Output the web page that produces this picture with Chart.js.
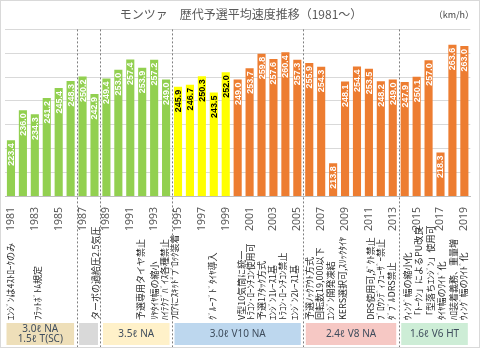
<!DOCTYPE html>
<html>
<head>
<meta charset="utf-8">
<script src="https://cdn.jsdelivr.net/npm/chart.js@4/dist/chart.umd.min.js"></script>
<style>
  body { margin: 0; background: #fff; }
  canvas { display: block; }
</style>
</head>
<body>
<canvas id="monzaChart" width="480" height="348"></canvas>
<script>
// years and qualifying average speed (km/h)
const years = ['1981', '1982', '1983', '1984', '1985', '1986', '1987', '1988', '1989', '1990',
    '1991', '1992', '1993', '1994', '1995', '1996', '1997', '1998', '1999', '2000',
    '2001', '2002', '2003', '2004', '2005', '2006', '2007', '2008', '2009', '2010',
    '2011', '2012', '2013', '2014', '2015', '2016', '2017', '2018', '2019'];
const speeds = [223.4, 236.0, 234.3, 241.2, 245.4, 248.3, 250.2, 242.9, 249.4, 253.0,
    257.4, 253.9, 257.2, 249.0, 245.9, 246.7, 250.3, 243.5, 252.0, 249.0,
    253.7, 259.8, 257.6, 260.4, 257.3, 255.9, 254.3, 213.8, 248.1, 254.4,
    253.5, 248.2, 249.0, 247.9, 250.1, 257.0, 218.3, 263.6, 263.0];

// rule changes written under the axis
const ruleYears = [1981, 1983.2, 1988.1, 1991.9, 1993, 1993.9, 1994.7, 1997.9,
    2000.3, 2001.1, 2002.0, 2002.9, 2003.8, 2004.8,
    2006.0, 2006.9, 2007.8, 2008.8, 2011.1, 2012.0, 2012.9,
    2014.2, 2015.2, 2016.2, 2017.1, 2018.1, 2018.9];
const ruleTexts = ['ｴﾝｼﾞﾝは4ｽﾄﾛｰｸのみ', 'ﾌﾗｯﾄﾎﾞﾄﾑ規定', 'ターボの過給圧2.5気圧', '予選専用タイヤ禁止',
    'ﾘﾔﾀｲﾔ幅の縮小', 'ﾊｲﾃｸﾃﾞﾊﾞｲｽ各種禁止', 'ﾌﾛｱにｽｷｯﾄﾞﾌﾞﾛｯｸ装着', 'ｸﾞﾙｰﾌﾞﾄﾞﾀｲﾔ導入',
    'V型10気筒に統一', 'ﾄﾗｺﾝ･ﾛｰﾝﾁｺﾝ使用可', '予選1ｱﾀｯｸ方式', 'ｴﾝｼﾞﾝ1ﾚｰｽ1基',
    'ﾄﾗｺﾝ･ﾛｰﾝﾁｺﾝ禁止', 'ｴﾝｼﾞﾝ2ﾚｰｽ1基',
    '予選ﾉｯｸｱｳﾄ方式', '回転数19,000以下', 'ｴﾝｼﾞﾝ開発凍結', 'KERS選択可,ｽﾘｯｸﾀｲﾔ',
    'DRS使用可,ﾀﾞｸﾄ禁止', 'ﾌﾞﾛｳﾝﾃﾞｨﾌｭｰｻﾞｰ禁止', 'ﾀﾞﾌﾞﾙDRS禁止',
    'ｳｨﾝｸﾞ幅の縮小化', '「ﾄｰｸﾝ」によるPU改良', '「型落ちｴﾝｼﾞﾝ」使用可', 'ﾀｲﾔ幅のﾜｲﾄﾞ化',
    'ﾊﾛ装着義務、重量増', 'ｳｨﾝｸﾞ幅のﾜｲﾄﾞ化'];

// engine eras (boxes at the bottom)
const engineFrom = [1981, 1987, 1989, 1995, 2006, 2014];
const engineTo = [1986, 1988, 1994, 2005, 2013, 2019];
const engineLabels = [['3.0ℓ NA', '1.5ℓ T(SC)'], [], ['3.5ℓ NA'], ['3.0ℓ V10 NA'], ['2.4ℓ V8 NA'], ['1.6ℓ V6 HT']];

const engineColors = ['#EEDFB9', '#D9D9D9', '#FFF1C9', '#BDD7EE', '#F6C8C4', '#CDEDD6'];

function barColor(year) {
    const y = Number(year);
    if (y <= 1994) return '#92D050';
    if (y <= 1999) return '#FFFF00';
    return '#ED7D31';
}

const firstYear = Number(years[0]);

const extrasPlugin = {
    id: 'extras',
    beforeDraw(chart) {
        const ctx = chart.ctx;
        ctx.save();
        ctx.fillStyle = '#fff';
        ctx.fillRect(0, 0, chart.width, chart.height);
        ctx.strokeStyle = '#D9D9D9';
        ctx.lineWidth = 1;
        ctx.strokeRect(0.5, 0.5, chart.width - 1, chart.height - 1);
        ctx.restore();
    },
    afterDraw(chart) {
        const ctx = chart.ctx;
        const xs = chart.scales.x;
        const area = chart.chartArea;
        const px = yr => xs.getPixelForValue(yr - firstYear);

        ctx.save();

        // value labels inside the bars
        const meta = chart.getDatasetMeta(0);
        meta.data.forEach((bar, i) => {
            const yellow = barColor(years[i]) === '#FFFF00';
            ctx.save();
            ctx.translate(bar.x, bar.y + 3);
            ctx.rotate(-Math.PI / 2);
            ctx.font = 'bold 9px "Liberation Sans", sans-serif';
            ctx.fillStyle = yellow ? '#000' : '#fff';
            ctx.textAlign = 'right';
            ctx.textBaseline = 'middle';
            ctx.fillText(speeds[i].toFixed(1), 0, 0.5);
            ctx.restore();
        });

        // rule-change notes
        ctx.font = '9px "Noto Sans CJK JP", sans-serif';
        ctx.fillStyle = '#262626';
        ruleTexts.forEach((t, i) => {
            ctx.save();
            ctx.translate(px(ruleYears[i]), 320);
            ctx.rotate(-Math.PI / 2);
            ctx.textAlign = 'left';
            ctx.textBaseline = 'middle';
            ctx.fillText(t, 0, 0);
            ctx.restore();
        });

        // engine boxes
        const boxTop = 323, boxBottom = 345;
        engineFrom.forEach((from, i) => {
            const left = px(from - 0.5) + (i === 0 ? 1.5 : 2.5);
            const right = px(engineTo[i] + 0.5) - 2.5;
            ctx.fillStyle = engineColors[i];
            ctx.fillRect(left, boxTop, right - left, boxBottom - boxTop);
            ctx.fillStyle = '#3E4C5C';
            ctx.font = '10px "Noto Sans", sans-serif';
            ctx.textAlign = 'center';
            ctx.textBaseline = 'middle';
            const lines = engineLabels[i];
            const mid = (boxTop + boxBottom) / 2;
            lines.forEach((l, j) => {
                ctx.fillText(l, (left + right) / 2, mid + (j - (lines.length - 1) / 2) * 10.5);
            });
        });

        // dotted era separators
        ctx.strokeStyle = '#7F7F7F';
        ctx.lineWidth = 1;
        ctx.setLineDash([2, 2]);
        engineFrom.slice(1).forEach(from => {
            const x = Math.round(px(from - 0.5)) + 0.5;
            ctx.beginPath();
            ctx.moveTo(x, area.top);
            ctx.lineTo(x, 347);
            ctx.stroke();
        });
        ctx.setLineDash([]);

        // unit
        ctx.fillStyle = '#404040';
        ctx.font = '9px "Noto Sans CJK JP", sans-serif';
        ctx.textAlign = 'right';
        ctx.textBaseline = 'middle';
        ctx.fillText('（km/h）', 474, 15);

        ctx.restore();
    }
};

new Chart(document.getElementById('monzaChart'), {
    type: 'bar',
    data: {
        labels: years,
        datasets: [{
            data: speeds,
            backgroundColor: years.map(barColor),
            barPercentage: 0.68,
            categoryPercentage: 1.0
        }]
    },
    options: {
        responsive: false,
        animation: false,
        layout: { padding: { left: 5, right: 3, top: 1, bottom: 0 } },
        plugins: {
            legend: { display: false },
            tooltip: { enabled: false },
            title: {
                display: true,
                text: 'モンツァ　歴代予選平均速度推移（1981～）',
                color: '#595959',
                font: { family: '"Noto Sans CJK JP"', size: 12, weight: 'normal' },
                padding: { top: 6, bottom: 8 }
            }
        },
        scales: {
            x: {
                grid: { display: false },
                border: { display: true, color: '#BFBFBF' },
                ticks: {
                    color: '#595959',
                    font: { family: '"Noto Sans"', size: 10.5 },
                    minRotation: 90,
                    maxRotation: 90,
                    autoSkip: false,
                    padding: 3,
                    callback: (v, i) => (i % 2 === 0 ? years[i] : '')
                },
                afterFit: s => { s.height = 152; }
            },
            y: {
                min: 200,
                max: 270,
                ticks: { display: false, stepSize: 10 },
                grid: { color: '#D9D9D9', drawTicks: false },
                border: { display: false },
                afterFit: s => { s.width = 0; }
            }
        }
    },
    plugins: [extrasPlugin]
});
</script>
</body>
</html>
